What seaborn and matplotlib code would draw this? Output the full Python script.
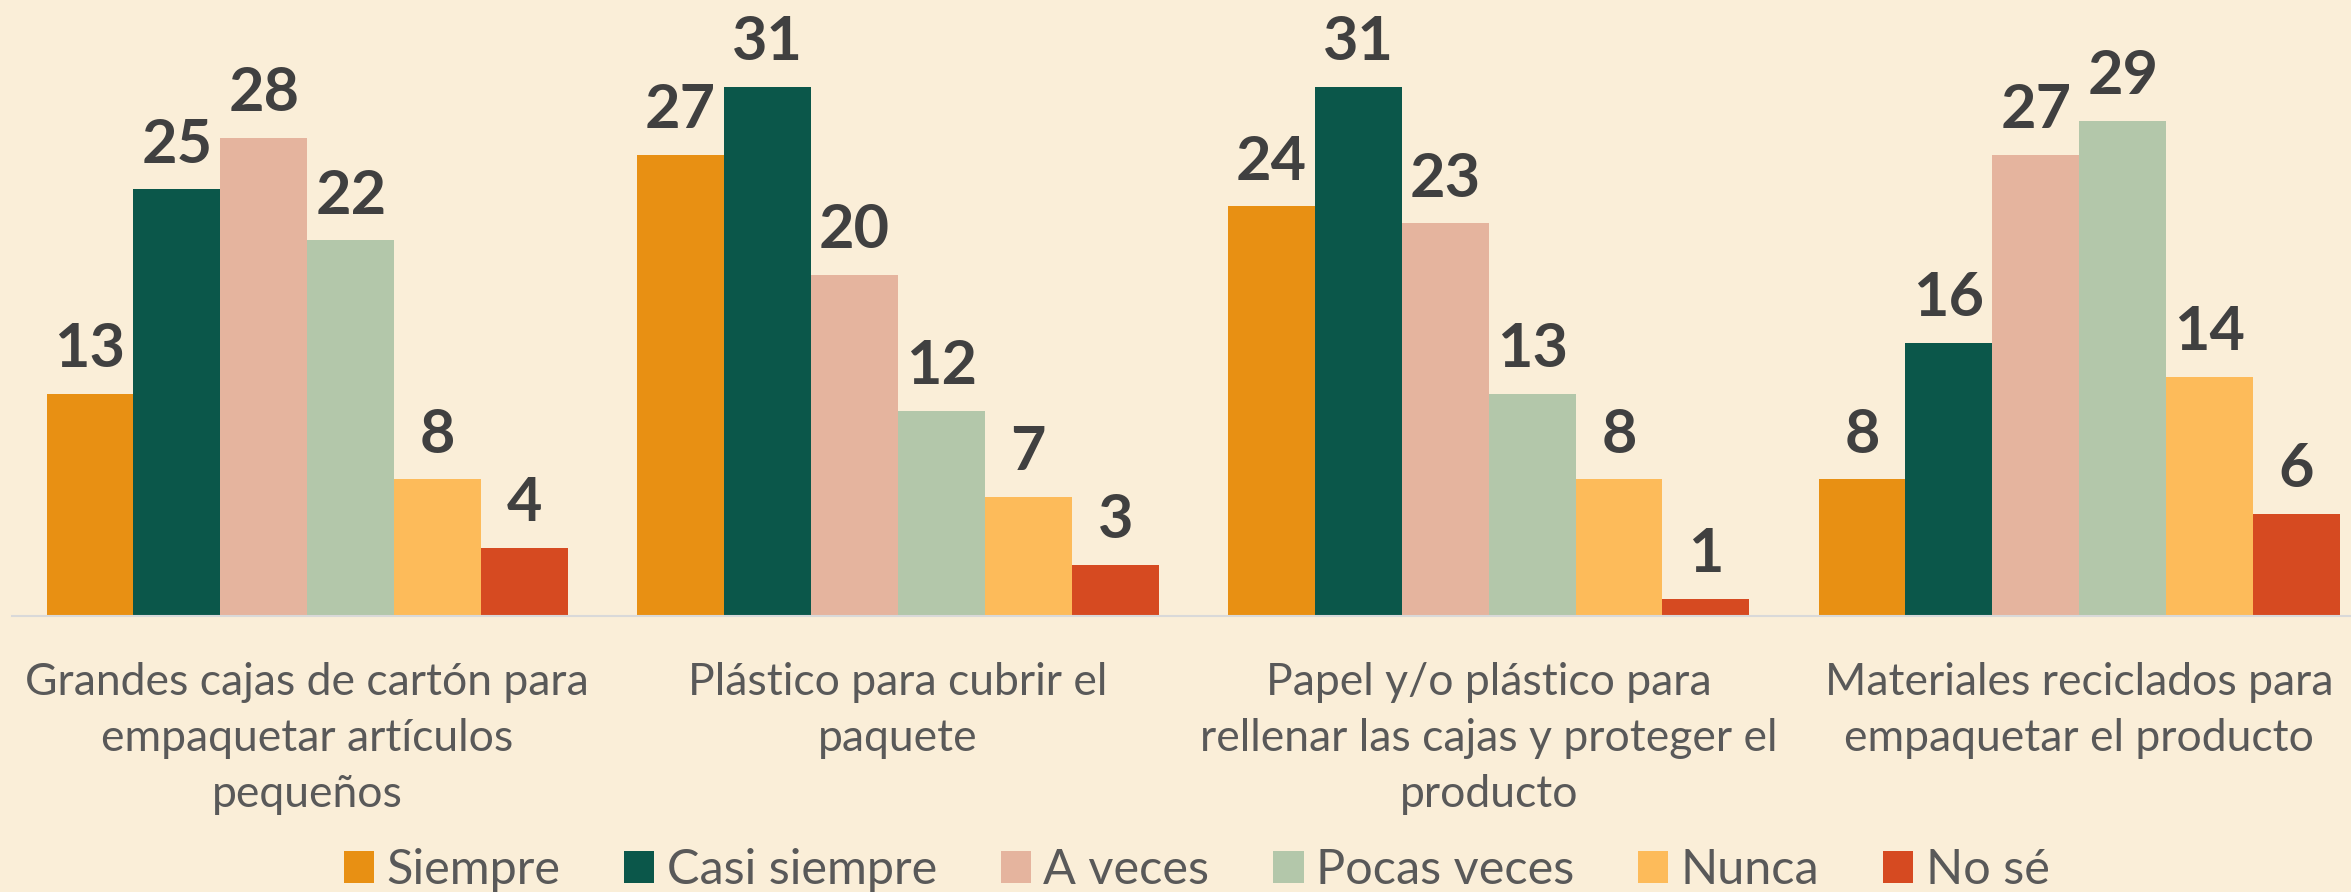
import matplotlib
matplotlib.use("Agg")
import matplotlib.pyplot as plt
import seaborn as sns
import pandas as pd

categories = [
    "Grandes cajas de cartón para\nempaquetar artículos\npequeños",
    "Plástico para cubrir el\npaquete",
    "Papel y/o plástico para\nrellenar las cajas y proteger el\nproducto",
    "Materiales reciclados para\nempaquetar el producto",
]
series = ["Siempre", "Casi siempre", "A veces", "Pocas veces", "Nunca", "No sé"]
siempre = [13, 27, 24, 8]
casi_siempre = [25, 31, 31, 16]
a_veces = [28, 20, 23, 27]
pocas_veces = [22, 12, 13, 29]
nunca = [8, 7, 8, 14]
no_se = [4, 3, 1, 6]
colors = ["#E89013", "#0B574A", "#E5B49E", "#B3C7AA", "#FDBB5A", "#D64A21"]

values = [siempre, casi_siempre, a_veces, pocas_veces, nunca, no_se]
rows = []
for s, vals in zip(series, values):
    for c, v in zip(categories, vals):
        rows.append({"cat": c, "serie": s, "val": v})
df = pd.DataFrame(rows)

BG = "#FAEED8"
sns.set_theme(style="white")
plt.rcParams["font.family"] = ["Lato", "DejaVu Sans"]

W, H = 2351, 892
fig = plt.figure(figsize=(W / 100, H / 100), dpi=100, facecolor=BG)
ax = fig.add_axes([12 / W, (H - 616) / H, 1 - 12 / W, (616 - 18.5) / H])
ax.set_facecolor(BG)

sns.barplot(data=df, x="cat", y="val", hue="serie", order=categories,
            hue_order=series, palette=colors, width=0.883, gap=0,
            saturation=1, linewidth=0, ax=ax)

for cont in ax.containers:
    ax.bar_label(cont, padding=12, fontsize=44, fontweight="bold", color="#404040")

ax.set_xlim(-0.5, 3.46)
ax.set_ylim(0, 35)
ax.set_xlabel("")
ax.set_ylabel("")
ax.set_yticks([])
for sp in ["top", "left", "right"]:
    ax.spines[sp].set_visible(False)
ax.spines["bottom"].set_color("#D9D9D9")
ax.spines["bottom"].set_linewidth(1.5)
ax.tick_params(axis="x", length=0, pad=33, labelsize=32, labelcolor="#595959")
for lab in ax.get_xticklabels():
    lab.set_linespacing(1.45)

handles, labels = ax.get_legend_handles_labels()
ax.legend(handles, labels, loc="center", bbox_to_anchor=(0.509, 1 - 870 / H),
          bbox_transform=fig.transFigure, ncol=6, frameon=False, fontsize=35,
          handlelength=0.62, handleheight=0.62, handletextpad=0.25,
          columnspacing=1.32, labelcolor="#595959")

fig.savefig("out.png", dpi=100, facecolor=BG)
